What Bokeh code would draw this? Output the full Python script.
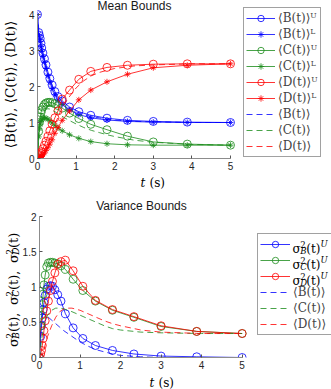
import numpy as np
from bokeh.plotting import figure
from bokeh.models import Range1d, Legend, LegendItem, Label, FixedTicker
from bokeh.layouts import column, row
from bokeh.embed import file_html
from bokeh.resources import INLINE

# ---------------- data ----------------
t_pts = [0, 0.03, 0.05, 0.07, 0.09, 0.11, 0.14, 0.18, 0.22, 0.27, 0.32, 0.38,
         0.45, 0.53, 0.64, 0.83, 1.07, 1.38, 1.8, 2.33, 3.0, 3.88, 5.0]
t_fine = [0, 0.05, 0.1, 0.15, 0.2, 0.3, 0.4, 0.5, 0.6, 0.7, 0.8, 1.0, 1.2,
          1.4, 1.6, 1.8, 2.0, 2.5, 3.0, 4.0, 5.0]

B_upper = [4.0, 3.5, 3.42, 3.33, 3.2, 3.07, 2.93, 2.77, 2.6, 2.4, 2.22, 2.04,
           1.86, 1.72, 1.6, 1.43, 1.3, 1.2, 1.12, 1.06, 1.03, 1.01, 1.0]
B_lower = [4.0, 3.45, 3.35, 3.25, 3.1, 2.98, 2.83, 2.67, 2.5, 2.3, 2.12, 1.94,
           1.77, 1.62, 1.5, 1.35, 1.22, 1.13, 1.07, 1.03, 1.01, 1.0, 1.0]
C_upper = [0, 0.75, 1.0, 1.15, 1.27, 1.35, 1.43, 1.5, 1.54, 1.56, 1.56, 1.55,
           1.52, 1.47, 1.4, 1.26, 1.11, 0.95, 0.8, 0.62, 0.46, 0.4, 0.37]
C_lower = [0, 0.6, 0.82, 0.95, 1.03, 1.08, 1.12, 1.13, 1.12, 1.09, 1.05, 0.99,
           0.92, 0.85, 0.77, 0.66, 0.56, 0.47, 0.41, 0.38, 0.37, 0.37, 0.37]
D_upper = [0, 0.03, 0.06, 0.1, 0.14, 0.19, 0.27, 0.37, 0.48, 0.62, 0.77, 0.95,
           1.13, 1.32, 1.65, 1.9, 2.2, 2.42, 2.53, 2.59, 2.62, 2.63, 2.63]
D_lower = [0, 0.01, 0.02, 0.03, 0.05, 0.07, 0.1, 0.15, 0.22, 0.3, 0.4, 0.52,
           0.7, 0.86, 1.06, 1.32, 1.63, 1.9, 2.13, 2.34, 2.52, 2.59, 2.63]
B_exact = [4.0, 3.38, 3.06, 2.86, 2.63, 2.24, 1.94, 1.72, 1.59, 1.5, 1.41, 1.3,
           1.22, 1.16, 1.13, 1.09, 1.07, 1.03, 1.02, 1.0, 1.0]
C_exact = [0, 0.92, 1.22, 1.34, 1.38, 1.38, 1.33, 1.27, 1.2, 1.13, 1.07, 0.96,
           0.86, 0.78, 0.72, 0.66, 0.61, 0.51, 0.45, 0.39, 0.37]
D_exact = [0, 0.02, 0.08, 0.17, 0.28, 0.52, 0.8, 1.07, 1.32, 1.52, 1.68, 1.96,
           2.16, 2.3, 2.39, 2.45, 2.5, 2.57, 2.6, 2.63, 2.63]

VB_upper = [0, 0.3, 0.45, 0.56, 0.68, 0.78, 0.88, 0.97, 1.01, 1.02, 1.01, 0.96,
            0.89, 0.8, 0.62, 0.42, 0.27, 0.17, 0.1, 0.05, 0.02, 0.01, 0.0]
VC_upper = [0, 0.45, 0.6, 0.75, 0.9, 1.03, 1.17, 1.29, 1.34, 1.35, 1.35, 1.34,
            1.33, 1.3, 1.25, 1.11, 0.95, 0.8, 0.67, 0.57, 0.44, 0.37, 0.34]
VD_upper = [0, 0.05, 0.1, 0.17, 0.27, 0.38, 0.52, 0.66, 0.8, 0.95, 1.08, 1.2,
            1.32, 1.36, 1.38, 1.23, 1.01, 0.81, 0.68, 0.58, 0.45, 0.37, 0.34]
VB_exact = [0, 0.58, 0.62, 0.6, 0.58, 0.53, 0.48, 0.43, 0.38, 0.34, 0.3, 0.22,
            0.16, 0.11, 0.08, 0.05, 0.03, 0.01, 0.0, 0.0, 0.0]
VC_exact = [0, 0.25, 0.42, 0.53, 0.6, 0.67, 0.7, 0.7, 0.69, 0.67, 0.65, 0.6,
            0.55, 0.5, 0.45, 0.41, 0.39, 0.36, 0.35, 0.34, 0.34]
VD_exact = [0, 0.03, 0.1, 0.2, 0.3, 0.45, 0.57, 0.65, 0.69, 0.7, 0.7, 0.67,
            0.62, 0.57, 0.52, 0.48, 0.45, 0.39, 0.36, 0.34, 0.34]

x_ticks = [0, 1, 2, 3, 4, 5]
y_ticks_mean = [0, 1, 2, 3, 4]
y_ticks_var = [0, 0.5, 1, 1.5, 2]
y_labels_var = ["0", "0.5", "1", "1.5", "2"]

# ---------------- styling ----------------
BLUE, GREEN, RED = "#0000ff", "#1a8c1a", "#ff0000"
SERIF = "DejaVu Serif"
SANS = "Liberation Sans"
LW = 0.8
DASH = "6 4"
AX = "#8c8c8c"
W = 331          # page width
SW = 19          # space kept on the left for the y-axis titles


def transparent(p):
    p.border_fill_color = None
    p.background_fill_color = None
    p.outline_line_color = None


def style_axes(p, yticks, ymax):
    transparent(p)
    p.xaxis.ticker = FixedTicker(ticks=x_ticks)
    p.yaxis.ticker = FixedTicker(ticks=yticks)
    p.xaxis.bounds = (0, 5)
    p.yaxis.bounds = (0, ymax)
    p.xgrid.visible = False
    p.ygrid.visible = False
    for ax in (p.xaxis[0], p.yaxis[0]):
        ax.axis_line_color = AX
        ax.axis_line_width = 1
        ax.major_tick_line_color = "#555555"
        ax.major_tick_in = 3
        ax.major_tick_out = 0
        ax.minor_tick_line_color = None
        ax.major_label_text_font = SANS
        ax.major_label_text_font_size = "10px"
        ax.major_label_text_color = "#262626"
        ax.major_label_standoff = 3


def strip(w, h, **kw):
    s = figure(width=w, height=h, x_range=Range1d(0, 1), y_range=Range1d(0, 1),
               x_axis_type=None, y_axis_type=None, output_backend="svg",
               toolbar_location=None, title=None, min_border=0, **kw)
    transparent(s)
    s.xgrid.visible = False
    s.ygrid.visible = False
    return s


def lab(p, x, y, text, size, font=SERIF, style="normal", align="left",
        baseline="alphabetic", angle=0.0, color="#000000"):
    p.add_layout(Label(x=x, y=y, x_units="screen", y_units="screen", text=text,
                       text_font=font, text_font_size=f"{size}px",
                       text_font_style=style, text_align=align,
                       text_baseline=baseline, angle=angle, text_color=color,
                       level="overlay"))


def series(p, x, y, color, marker=None, dashed=False):
    r = [p.line(x, y, line_color=color, line_width=LW,
                line_dash=DASH if dashed else "solid")]
    if marker == "circle":
        r.append(p.scatter(x, y, marker="circle", size=8, line_color=color,
                           fill_color=None, line_width=LW))
    elif marker == "star":
        r.append(p.scatter(x, y, marker="asterisk", size=6, line_color=color,
                           line_width=LW))
    return r


def legend(items, loc, pad, gw):
    return Legend(items=items, location=loc, padding=pad, spacing=0,
                  glyph_height=16, glyph_width=gw, label_height=16,
                  label_standoff=3, margin=0, label_width=36,
                  label_text_font=SERIF, label_text_font_size="12px",
                  border_line_color="#444444", border_line_width=1,
                  background_fill_alpha=0.0)


# =============== top: mean bounds ===============
# frame: page x 37..331, y 0..158 ; t=5 -> x 230 ; y=4 -> 14
p1 = figure(width=W - SW, height=173,
            x_range=Range1d(0, 5 + 101 / 38.6),
            y_range=Range1d(0, 4 + 14 / 36.0),
            output_backend="svg", toolbar_location=None, title=None,
            min_border_left=37 - SW, min_border_right=0, min_border_top=0,
            min_border_bottom=15)
style_axes(p1, y_ticks_mean, 4)

rBu = series(p1, t_pts, B_upper, BLUE, "circle")
rBl = series(p1, t_pts, B_lower, BLUE, "star")
rCu = series(p1, t_pts, C_upper, GREEN, "circle")
rCl = series(p1, t_pts, C_lower, GREEN, "star")
rDu = series(p1, t_pts, D_upper, RED, "circle")
rDl = series(p1, t_pts, D_lower, RED, "star")
rBe = series(p1, t_fine, B_exact, BLUE, dashed=True)
rCe = series(p1, t_fine, C_exact, GREEN, dashed=True)
rDe = series(p1, t_fine, D_exact, RED, dashed=True)

p1.add_layout(legend([
    LegendItem(label="⟨B(t)⟩ᵁ", renderers=rBu),
    LegendItem(label="⟨B(t)⟩ᴸ", renderers=rBl),
    LegendItem(label="⟨C(t)⟩ᵁ", renderers=rCu),
    LegendItem(label="⟨C(t)⟩ᴸ", renderers=rCl),
    LegendItem(label="⟨D(t)⟩ᵁ", renderers=rDu),
    LegendItem(label="⟨D(t)⟩ᴸ", renderers=rDl),
    LegendItem(label="⟨B(t)⟩", renderers=rBe),
    LegendItem(label="⟨C(t)⟩", renderers=rCe),
    LegendItem(label="⟨D(t)⟩", renderers=rDe),
], (206, 1), 2, 29), "center")

lab(p1, 97, 153, "Mean Bounds", 12, font=SANS, align="center",
    baseline="middle", color="#1a1a1a")

# full-width transparent underlay holding the rotated y-axis title
ys1 = strip(W, 193, margin=(0, -(W - SW), 0, 0))
lab(ys1, 9, 109, "⟨B(t)⟩, ⟨C(t)⟩, ⟨D(t)⟩", 13.5, align="center",
    baseline="middle", angle=np.pi / 2)

xs1 = strip(W - SW, 20)
lab(xs1, 122 - SW, 10.5, "t", 12, style="italic", baseline="middle")
lab(xs1, 131 - SW, 10.5, "(s)", 12, baseline="middle")

# =============== bottom: variance bounds ===============
# frame: page x 37..331, y 193..357 ; t=5 -> 241 ; y=2 -> 216
p2 = figure(width=W - SW, height=179,
            x_range=Range1d(0, 5 + 90 / 40.8),
            y_range=Range1d(0, 2 + 23 / 70.5),
            output_backend="svg", toolbar_location=None, title=None,
            min_border_left=37 - SW, min_border_right=0, min_border_top=0,
            min_border_bottom=15)
style_axes(p2, y_ticks_var, 2)
p2.yaxis.major_label_overrides = {k: v for k, v in zip(y_ticks_var, y_labels_var)}

rVB = series(p2, t_pts, VB_upper, BLUE, "circle")
rVC = series(p2, t_pts, VC_upper, GREEN, "circle")
rVD = series(p2, t_pts, VD_upper, RED, "circle")
rVBe = series(p2, t_fine, VB_exact, BLUE, dashed=True)
rVCe = series(p2, t_fine, VC_exact, GREEN, dashed=True)
rVDe = series(p2, t_fine, VD_exact, RED, dashed=True)

p2.add_layout(legend([
    LegendItem(label=" ", renderers=rVB),
    LegendItem(label=" ", renderers=rVC),
    LegendItem(label=" ", renderers=rVD),
    LegendItem(label="⟨B(t)⟩", renderers=rVBe),
    LegendItem(label="⟨C(t)⟩", renderers=rVCe),
    LegendItem(label="⟨D(t)⟩", renderers=rVDe),
], (218, 22), 2, 30), "center")

# sigma^2_X(t)^U labels inside the legend
for i, sub in enumerate(["B", "C", "D"]):
    x0 = 218 + 2 + 30 + 3
    b = 22 + 100 - 2 - 8 - 16 * i - 3
    lab(p2, x0, b, "σ", 12)
    lab(p2, x0 + 7.7, b + 4.5, "2", 8.5)
    lab(p2, x0 + 7.7, b - 2.5, sub, 8.5, style="italic")
    lab(p2, x0 + 13.7, b, "(t)", 12)
    lab(p2, x0 + 28, b + 4.5, "U", 8.5, style="italic")

lab(p2, 102, 152, "Variance Bounds", 12, font=SANS, align="center",
    baseline="middle", color="#1a1a1a")

ys2 = strip(W, 196, margin=(0, -(W - SW), 0, 0))
bx = 13
start = 99.5 - 57
for k, sub in enumerate(["B", "C", "D"]):
    y0 = start + k * 42
    lab(ys2, bx, y0, "σ", 13, angle=np.pi / 2)
    lab(ys2, bx - 4.5, y0 + 8.3, "2", 9, angle=np.pi / 2)
    lab(ys2, bx + 2.5, y0 + 8.3, sub, 9, style="italic", angle=np.pi / 2)
    lab(ys2, bx, y0 + 15, "(t)," if k < 2 else "(t)", 13, angle=np.pi / 2)

xs2 = strip(W - SW, 17)
lab(xs2, 129 - SW, 7, "t", 12, style="italic", baseline="middle")
lab(xs2, 138 - SW, 7, "(s)", 12, baseline="middle")

layout = column(row(ys1, column(p1, xs1)), row(ys2, column(p2, xs2)))
open("out.html", "w").write(file_html(layout, INLINE))
